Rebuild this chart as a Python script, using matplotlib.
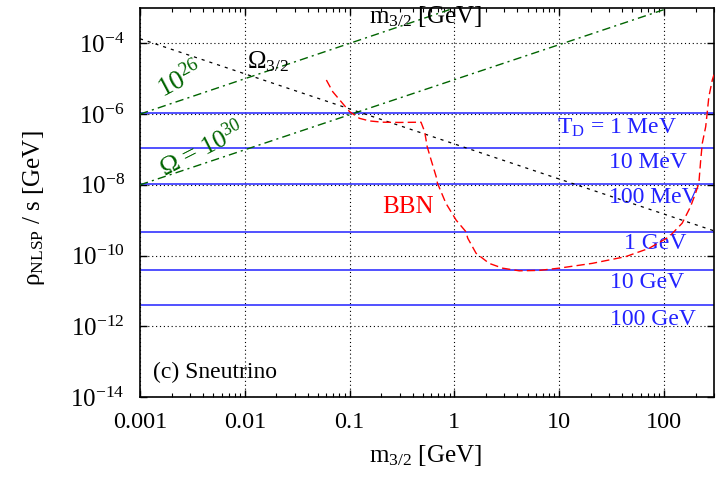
import matplotlib
matplotlib.use('Agg')
import matplotlib.pyplot as plt
import numpy as np
from matplotlib.ticker import FixedLocator, LogLocator, NullFormatter

plt.rcParams['font.family'] = 'serif'
plt.rcParams['font.serif'] = ['Liberation Serif', 'DejaVu Serif']
plt.rcParams['mathtext.fontset'] = 'custom'
plt.rcParams['mathtext.rm'] = 'Liberation Serif'
plt.rcParams['mathtext.it'] = 'Liberation Serif:italic'
plt.rcParams['mathtext.bf'] = 'Liberation Serif:bold'

# BBN constraint (red dashed)
m_bbn = [0.060, 0.069, 0.10, 0.124, 0.155, 0.206, 0.30, 0.48, 0.52, 0.55, 0.60,
         0.67, 0.69, 0.83, 1.04, 1.29, 1.34, 1.61, 2.15, 2.88, 4.16, 6.45, 10,
         20.6, 43, 72, 112, 149, 179, 200, 215, 224, 232, 250, 258, 268, 289, 300]
rho_bbn = [9.2e-6, 4.3e-6, 1.17e-6, 7.6e-7, 6.4e-7, 5.9e-7, 5.8e-7, 5.9e-7, 3.2e-7,
           1.2e-7, 5.0e-8, 1.7e-8, 1.1e-8, 3.0e-9, 1.0e-9, 4.7e-10, 3.1e-10,
           1.16e-10, 6.0e-11, 4.4e-11, 3.7e-11, 3.8e-11, 4.4e-11, 6.0e-11, 9.3e-11,
           1.6e-10, 3.4e-10, 8.2e-10, 2.4e-9, 5.8e-9, 1.1e-8, 5.0e-8, 1.5e-7,
           4.4e-7, 1.05e-6, 3.1e-6, 9.2e-6, 1.3e-5]

# Omega_3/2 line (black dotted)
m_om = [0.001, 300]
rho_om = [1.35e-4, 5e-10]

# Omega = 10^26 and 10^30 (green dash-dot)
m_26 = [0.001, 0.9]
rho_26 = [1e-6, 9e-4]
m_30 = [0.001, 100]
rho_30 = [1e-8, 9e-4]

# decoupling temperature lines (blue)
td_rho = [1.1e-6, 1.1e-7, 1.05e-8, 4.5e-10, 4e-11, 4e-12]
td_labels = ['T$_{\\rm D}$ = 1 MeV', '10 MeV', '100 MeV', '1 GeV', '10 GeV', '100 GeV']
td_lab_x = [133, 166, 215, 163, 155, 202]
td_lab_y = [2.7e-7, 2.9e-8, 3.1e-9, 1.5e-10, 1.19e-11, 1.09e-12]

xticks = [0.001, 0.01, 0.1, 1, 10, 100]
xticklabels = ['0.001', '0.01', '0.1', '1', '10', '100']
yticks = [1e-14, 1e-12, 1e-10, 1e-8, 1e-6, 1e-4]
yticklabels = ['$10^{-14}$', '$10^{-12}$', '$10^{-10}$', '$10^{-8}$', '$10^{-6}$', '$10^{-4}$']

fig = plt.figure(figsize=(7.17, 4.82), dpi=100)
ax = fig.add_axes([140/717, 85/482, 574/717, 389/482])
ax.set_xscale('log')
ax.set_yscale('log')
ax.set_xlim(0.001, 300)
ax.set_ylim(1e-14, 1e-3)

for y in td_rho:
    ax.axhline(y, color='#3333ff', lw=1.2, zorder=2)

ax.plot(m_om, rho_om, color='black', lw=0.9, dashes=(2.5, 4), zorder=3)
ax.plot(m_26, rho_26, color='#006400', lw=1.0, dashes=(6, 3, 1.5, 3), zorder=3)
ax.plot(m_30, rho_30, color='#006400', lw=1.0, dashes=(6, 3, 1.5, 3), zorder=3)
ax.plot(m_bbn, rho_bbn, color='#ff0000', lw=1.0, dashes=(6, 3), zorder=4)

ax.xaxis.set_major_locator(FixedLocator(xticks))
ax.set_xticklabels(xticklabels)
ax.xaxis.set_minor_locator(LogLocator(base=10, subs=np.arange(2, 10), numticks=20))
ax.xaxis.set_minor_formatter(NullFormatter())
ax.yaxis.set_major_locator(FixedLocator(yticks))
ax.set_yticklabels(yticklabels)
ax.yaxis.set_minor_locator(FixedLocator([]))

ax.tick_params(which='both', direction='in', top=True, right=True, labelsize=17.5)
ax.tick_params(axis='y', labelsize=18)
ax.tick_params(which='major', length=5, width=1, pad=11)
ax.tick_params(which='minor', length=3, width=0.8)
ax.grid(True, which='major', color='black', lw=0.8, ls=(0, (1, 2.5)))
for s in ax.spines.values():
    s.set_linewidth(1.2)

for lab, xr, yb in zip(td_labels, td_lab_x, td_lab_y):
    ax.text(xr, yb, lab, color='#2222ff', fontsize=17, ha='right', va='baseline')

ax.text(0.0105, 2.0e-5, '$\\Omega_{3/2}$', fontsize=18, ha='left', va='baseline')
ax.text(0.00244, 9.2e-6, '$10^{26}$', color='#006400', fontsize=19.5, rotation=28,
        ha='center', va='center', rotation_mode='anchor')
ax.text(0.0039, 1.0e-7, '$\\Omega$ = $10^{30}$', color='#006400', fontsize=18.5, rotation=27,
        ha='center', va='center', rotation_mode='anchor')
ax.text(0.206, 1.57e-9, 'BBN', color='#ff0000', fontsize=18, ha='left', va='baseline')
ax.text(0.023, 0.048, '(c) Sneutrino', transform=ax.transAxes, fontsize=17,
        ha='left', va='baseline')

fig.text(425/717, 1 - 23/482, 'm$_{3/2}$ [GeV]', fontsize=18, ha='center', va='baseline')
fig.text(425/717, 1 - 461.7/482, 'm$_{3/2}$ [GeV]', fontsize=18, ha='center', va='baseline')
fig.text(34/717, 1 - 208/482, '\u03c1$_{\\rm NLSP}$ / s [GeV]', fontsize=18,
         rotation=90, ha='center', va='center')

fig.savefig('out.png', dpi=100)
